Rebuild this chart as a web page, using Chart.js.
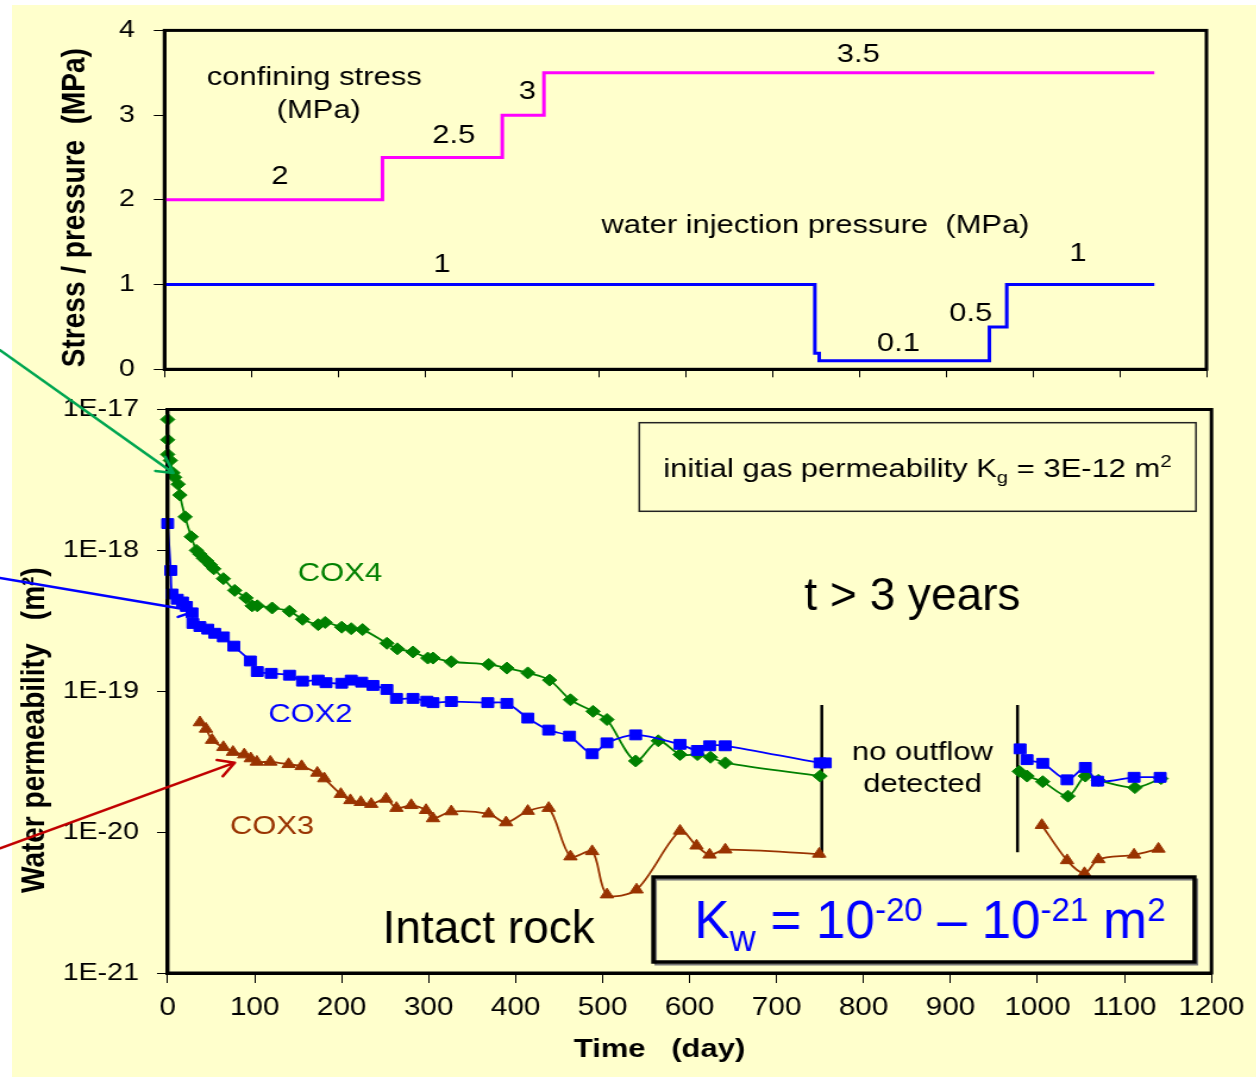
<!DOCTYPE html>
<html><head><meta charset="utf-8">
<script src="https://cdn.jsdelivr.net/npm/chart.js@4/dist/chart.umd.min.js"></script>
<style>
html,body{margin:0;padding:0;background:#fff;}
#page{position:relative;width:1260px;height:1077px;overflow:hidden;background:#fff;}
#cream{position:absolute;left:12px;top:5px;width:1244px;height:1072px;background:#FFFFCC;}
canvas{position:absolute;left:0;top:0;}
</style></head><body>
<div id="page"><div id="cream"></div>
<canvas id="topChart" width="1059" height="1077" style="width:1260px;height:1077px"></canvas>
<canvas id="bottomChart" width="1059" height="1077" style="width:1260px;height:1077px"></canvas>
</div>
<script>
// ================= DATA =================
const stressTickLabels = ['0','1','2','3','4'];
const permTickValues = [1e-21, 1e-20, 1e-19, 1e-18, 1e-17];
const permTickLabels = ['1E-21','1E-20','1E-19','1E-18','1E-17'];

// top panel: step curves (day, MPa) - value holds until the next day listed
const stressDays = [0, 251, 389, 437, 1140];
const stressMPa  = [2, 2.5, 3, 3.5, 3.5];
const waterDays  = [0, 749, 754, 950, 970, 1140];
const waterMPa   = [1, 0.19, 0.1, 0.5, 1, 1];

// bottom panel: water permeability (m2); null = no outflow detected (gap)
const cox4Days = [0,0,0,3,6,8,12,14,20,27,33,37,41,45,49,53,64,77,90,97,103,120,140,155,173,181,200,211,224,252,264,282,299,305,326,369,390,414,439,463,489,505,538,564,589,609,624,641,750,865,979,988,1006,1035,1055,1070,1112,1142];
const cox4Perm = [8.5e-18,6.1e-18,4.8e-18,4.35e-18,3.55e-18,3.3e-18,2.95e-18,2.47e-18,1.73e-18,1.25e-18,
  1.0e-18,9.4e-19,8.8e-19,8.4e-19,7.9e-19,7.4e-19,6.3e-19,5.2e-19,4.6e-19,4.04e-19,
  4.04e-19,3.9e-19,3.7e-19,3.24e-19,2.97e-19,3.08e-19,2.85e-19,2.78e-19,2.74e-19,2.19e-19,
  2.0e-19,1.9e-19,1.72e-19,1.72e-19,1.62e-19,1.55e-19,1.46e-19,1.35e-19,1.2e-19,8.7e-20,
  7.2e-20,6.3e-20,3.2e-20,4.45e-20,3.55e-20,3.55e-20,3.4e-20,3.1e-20,2.5e-20,null,
  2.7e-20,2.5e-20,2.28e-20,1.8e-20,2.5e-20,2.33e-20,2.07e-20,2.4e-20];

const cox2Days = [0,3.5,5,11,17,21.5,28,29,37,46,54,64,76,95,103,119,140,155,173,182,200,211,223,236,252,263,282,298,305,326,368,390,414,438,462,488,505,538,589,609,623,641,750,756,865,980,988,1006,1034,1055,1069,1111,1141];
const cox2Perm = [1.55e-18,7.2e-19,4.9e-19,4.5e-19,4.3e-19,4.0e-19,3.6e-19,3.03e-19,2.88e-19,2.76e-19,
  2.58e-19,2.43e-19,2.09e-19,1.64e-19,1.38e-19,1.34e-19,1.30e-19,1.18e-19,1.2e-19,1.15e-19,
  1.14e-19,1.2e-19,1.16e-19,1.1e-19,1.03e-19,8.9e-20,8.9e-20,8.5e-20,8.3e-20,8.45e-20,
  8.3e-20,8.2e-20,6.45e-20,5.3e-20,4.8e-20,3.6e-20,4.3e-20,4.9e-20,4.2e-20,3.8e-20,
  4.1e-20,4.1e-20,3.1e-20,3.1e-20,null,3.9e-20,3.27e-20,3.08e-20,2.35e-20,2.88e-20,
  2.3e-20,2.45e-20,2.45e-20];

const cox3Days = [37,44,51,64,75,88,95.5,102.5,118,139,154,172,180,199,210,222,234,251,263,280,297,305,326,369,389,414,438,463,488,505,539,589,608,623,641,749,865,1005,1034,1054,1070,1111,1139];
const cox3Perm = [6.0e-20,5.4e-20,4.5e-20,4.0e-20,3.7e-20,3.55e-20,3.33e-20,3.15e-20,3.15e-20,3.03e-20,
  2.93e-20,2.63e-20,2.4e-20,1.86e-20,1.68e-20,1.63e-20,1.58e-20,1.72e-20,1.48e-20,1.55e-20,
  1.43e-20,1.25e-20,1.4e-20,1.35e-20,1.17e-20,1.41e-20,1.48e-20,6.7e-21,7.3e-21,3.6e-21,
  3.9e-21,1.02e-20,8.0e-21,6.9e-21,7.5e-21,7.0e-21,null,1.12e-20,6.3e-21,5.1e-21,
  6.4e-21,6.9e-21,7.6e-21];

// vertical markers bounding the "no outflow" period
const gapMarkDays   = [752, 977];
const gapMarkTop    = [8.0e-20, 8.0e-20];
const gapMarkBottom = [6.6e-21, 7.2e-21];

// ================= STYLE / LAYOUT =================
const FONT = "'Liberation Sans', Arial, Helvetica, sans-serif";
Chart.defaults.font.family = FONT;
Chart.defaults.color = '#000';
const S = 1260 / 1059; // horizontal stretch of the embedded chart

function pts(days, vals){ return days.map((d,i)=>({x:d, y:vals[i]})); }

const framePlugin = {
  id:'frame',
  afterDatasetsDraw(chart){
    const {ctx, chartArea:a} = chart;
    ctx.save(); ctx.strokeStyle='#000'; ctx.lineWidth=3;
    ctx.strokeRect(a.left, a.top, a.right-a.left, a.bottom-a.top);
    ctx.restore();
  }
};

// draw text segments; stretched=false => compensate the canvas stretch
function drawSegs(ctx, segs, px, py, align, color, stretched){
  ctx.save();
  ctx.translate(px, py);
  if (!stretched) ctx.scale(1/S, 1);
  ctx.fillStyle = color; ctx.textBaseline = 'alphabetic'; ctx.textAlign = 'left';
  let total = 0;
  segs.forEach(s=>{ ctx.font = `${s.weight||'normal'} ${s.size}px ${FONT}`; total += ctx.measureText(s.t).width; });
  let cx = align === 'center' ? -total/2 : 0;
  segs.forEach(s=>{ ctx.font = `${s.weight||'normal'} ${s.size}px ${FONT}`; ctx.fillText(s.t, cx, s.dy||0); cx += ctx.measureText(s.t).width; });
  ctx.restore();
}

const topNotes = [
  {t:'confining stress', day:172.4, v:3.358},
  {t:'(MPa)', day:177.6, v:2.969},
  {t:'2', day:133, v:2.19},
  {t:'2.5', day:333.2, v:2.669},
  {t:'3', day:417.8, v:3.194},
  {t:'3.5', day:799, v:3.631},
  {t:'water injection pressure  (MPa)', day:749.7, v:1.607},
  {t:'1', day:319.6, v:1.151},
  {t:'0.1', day:845.2, v:0.217},
  {t:'0.5', day:928.5, v:0.567},
  {t:'1', day:1052, v:1.284}
];

const topNotesPlugin = {
  id:'topNotes',
  afterDatasetsDraw(chart){
    const {ctx, scales:{x,y}} = chart;
    topNotes.forEach(n=>{
      drawSegs(ctx, [{t:n.t, size:26}], x.getPixelForValue(n.day), y.getPixelForValue(n.v), 'center', '#000', true);
    });
  }
};

const axisCommon = {
  grid:{drawOnChartArea:false, drawTicks:true, color:'#000', tickColor:'#000', lineWidth:1},
  border:{display:true, color:'#000', width:3}
};

new Chart(document.getElementById('topChart'), {
  type:'line',
  data:{datasets:[
    {label:'confining stress', data:pts(stressDays, stressMPa), borderColor:'#FF00FF', borderWidth:3, stepped:'before', pointRadius:0, fill:false},
    {label:'water injection pressure', data:pts(waterDays, waterMPa), borderColor:'#0000FF', borderWidth:3, stepped:'before', pointRadius:0, fill:false}
  ]},
  options:{
    responsive:false, animation:false, devicePixelRatio:1,
    layout:{padding:{left:46.2, top:26.7, right:45, bottom:676.7}},
    plugins:{legend:{display:false}, tooltip:{enabled:false}},
    scales:{
      x:{type:'linear', min:0, max:1200,
         ticks:{display:false, stepSize:100},
         grid:{...axisCommon.grid, tickLength:8}, border:axisCommon.border,
         afterFit:s=>{ s.height = 31; }},
      y:{type:'linear', min:0, max:4,
         ticks:{stepSize:1, font:{size:24}, padding:16, color:'#000',
                callback:(v)=> stressTickLabels[Math.round(v)] ?? ''},
         grid:{...axisCommon.grid, tickLength:9}, border:axisCommon.border,
         title:{display:true, text:'Stress / pressure  (MPa)  ', font:{size:28, weight:'bold'}, padding:0, color:'#000'},
         afterFit:s=>{ s.width = 92.06; }}
    }
  },
  plugins:[framePlugin, topNotesPlugin]
});

// ---------- bottom panel annotations ----------
const textNotes = [
  {segs:[{t:'COX4', size:26}], day:198, v:6.03e-19, color:'#008000', stretched:true},
  {segs:[{t:'COX2', size:26}], day:164, v:6.02e-20, color:'#0000FF', stretched:true},
  {segs:[{t:'COX3', size:26}], day:120, v:9.65e-21, color:'#993300', stretched:true},
  {segs:[{t:'no outflow', size:26}], day:867.8, v:3.25e-20, color:'#000', stretched:true},
  {segs:[{t:'detected', size:26}], day:867.8, v:1.936e-20, color:'#000', stretched:true},
  {segs:[{t:'t > 3 years', size:46}], day:856.2, v:3.773e-19, color:'#000', stretched:false},
  {segs:[{t:'Intact rock', size:46}], day:369, v:1.625e-21, color:'#000', stretched:false}
];
const gasBox = {d0:542.2, d1:1182.2, v0:8.06e-18, v1:1.894e-18, textDay:569.8, textV:3.30e-18,
  segs:[{t:'initial gas permeability K', size:26},{t:'g', size:17, dy:6},{t:' = 3E-12 m', size:26},{t:'2', size:17, dy:-10}]};
const kwBox = {d0:558.3, d1:1180.5, v0:4.8e-21, v1:1.197e-21, textDay:605.4, textV:1.769e-21,
  segs:[{t:'K', size:53},{t:'w', size:36, dy:13},{t:' = 10', size:53},{t:'-20', size:33, dy:-17},
        {t:' \u2013 10', size:53},{t:'-21', size:33, dy:-17},{t:' m', size:53},{t:'2', size:33, dy:-17}]};
const arrows = [
  {from:[-192.8, 2.64e-17], to:[6.4, 3.54e-18], color:'#00A651'},
  {from:[-192.8, 6.37e-19], to:[31.4, 3.71e-19], color:'#0000FF'},
  {from:[-192.8, 7.68e-21], to:[77, 3.11e-20], color:'#C00000'}
];

const bottomNotesPlugin = {
  id:'bottomNotes',
  afterDatasetsDraw(chart){
    const {ctx, scales:{x,y}} = chart;
    const X = d=>x.getPixelForValue(d), Y = v=>y.getPixelForValue(v);
    // gas permeability box
    ctx.save();
    ctx.strokeStyle='#222'; ctx.lineWidth=1.5;
    ctx.strokeRect(X(gasBox.d0), Y(gasBox.v0), X(gasBox.d1)-X(gasBox.d0), Y(gasBox.v1)-Y(gasBox.v0));
    ctx.restore();
    drawSegs(ctx, gasBox.segs, X(gasBox.textDay), Y(gasBox.textV), 'left', '#000', true);
    // Kw box
    ctx.save();
    const kx=X(kwBox.d0), ky=Y(kwBox.v0), kw=X(kwBox.d1)-kx, kh=Y(kwBox.v1)-ky;
    ctx.fillStyle='#FFFFCC'; ctx.fillRect(kx, ky, kw, kh);
    ctx.strokeStyle='#777'; ctx.lineWidth=2; ctx.strokeRect(kx+2, ky+2.5, kw, kh);
    ctx.strokeStyle='#000'; ctx.lineWidth=3.5; ctx.strokeRect(kx, ky, kw, kh);
    ctx.restore();
    drawSegs(ctx, kwBox.segs, X(kwBox.textDay), Y(kwBox.textV), 'left', '#0000FF', false);
    // texts
    textNotes.forEach(n=> drawSegs(ctx, n.segs, X(n.day), Y(n.v), 'center', n.color, n.stretched));
    // arrows
    arrows.forEach(a=>{
      const x0=X(a.from[0]), y0=Y(a.from[1]), x1=X(a.to[0]), y1=Y(a.to[1]);
      const ang = Math.atan2(y1-y0, (x1-x0)*S);
      const L=18, h=0.5;
      ctx.save(); ctx.strokeStyle=a.color; ctx.lineWidth=2.5; ctx.lineCap='round';
      ctx.beginPath(); ctx.moveTo(x0,y0); ctx.lineTo(x1,y1);
      [ang+Math.PI-h, ang+Math.PI+h].forEach(t=>{
        ctx.moveTo(x1,y1); ctx.lineTo(x1+Math.cos(t)*L/S, y1+Math.sin(t)*L);
      });
      ctx.stroke(); ctx.restore();
    });
  }
};

const seriesStyle = (color, style, r) => ({
  borderColor:color, backgroundColor:color, pointBackgroundColor:color, pointBorderColor:color,
  pointStyle:style, pointRadius:r, pointBorderWidth:1, borderWidth:1.8, tension:0.3,
  spanGaps:false, clip:false, fill:false
});

new Chart(document.getElementById('bottomChart'), {
  type:'line',
  data:{datasets:[
    {label:'COX2', data:pts(cox2Days, cox2Perm), ...seriesStyle('#0000FF','rect',7)},
    {label:'COX4', data:pts(cox4Days, cox4Perm), ...seriesStyle('#008000','rectRot',6)},
    {label:'COX3', data:pts(cox3Days, cox3Perm), ...seriesStyle('#993300','triangle',6.5)},
    ...gapMarkDays.map((d,i)=>({label:'limit'+i, data:[{x:d,y:gapMarkTop[i]},{x:d,y:gapMarkBottom[i]}],
       borderColor:'#000', borderWidth:2.5, pointRadius:0, tension:0, clip:false, fill:false}))
  ]},
  options:{
    responsive:false, animation:false, devicePixelRatio:1,
    layout:{padding:{left:12.6, top:409.5, right:40.8, bottom:0}},
    plugins:{legend:{display:false}, tooltip:{enabled:false}},
    scales:{
      x:{type:'linear', min:0, max:1200,
         ticks:{stepSize:100, font:{size:25}, padding:10, color:'#000', maxRotation:0, autoSkip:false,
                callback:(v)=>String(v)},
         grid:{...axisCommon.grid, tickLength:10}, border:axisCommon.border,
         title:{display:true, text:'Time   (day)       ', font:{size:26, weight:'bold'}, padding:{top:0, bottom:11.4}, color:'#000'},
         afterFit:s=>{ s.height = 104; }},
      y:{type:'logarithmic', min:1e-21, max:1e-17,
         afterBuildTicks:s=>{ s.ticks = permTickValues.map(v=>({value:v})); },
         ticks:{font:{size:24}, padding:15.2, color:'#000', autoSkip:false,
                callback:(v)=>{ const i = permTickValues.findIndex(t=>Math.abs(Math.log10(t)-Math.log10(v))<1e-6); return i>=0 ? permTickLabels[i] : ''; }},
         grid:{...axisCommon.grid, tickLength:9}, border:axisCommon.border,
         title:{display:true, text:'Water permeability   (m\u00B2)          ', font:{size:28, weight:'bold'}, padding:0, color:'#000'},
         afterFit:s=>{ s.width = 128.35; }}
    }
  },
  plugins:[framePlugin, bottomNotesPlugin]
});
</script>
</body></html>
